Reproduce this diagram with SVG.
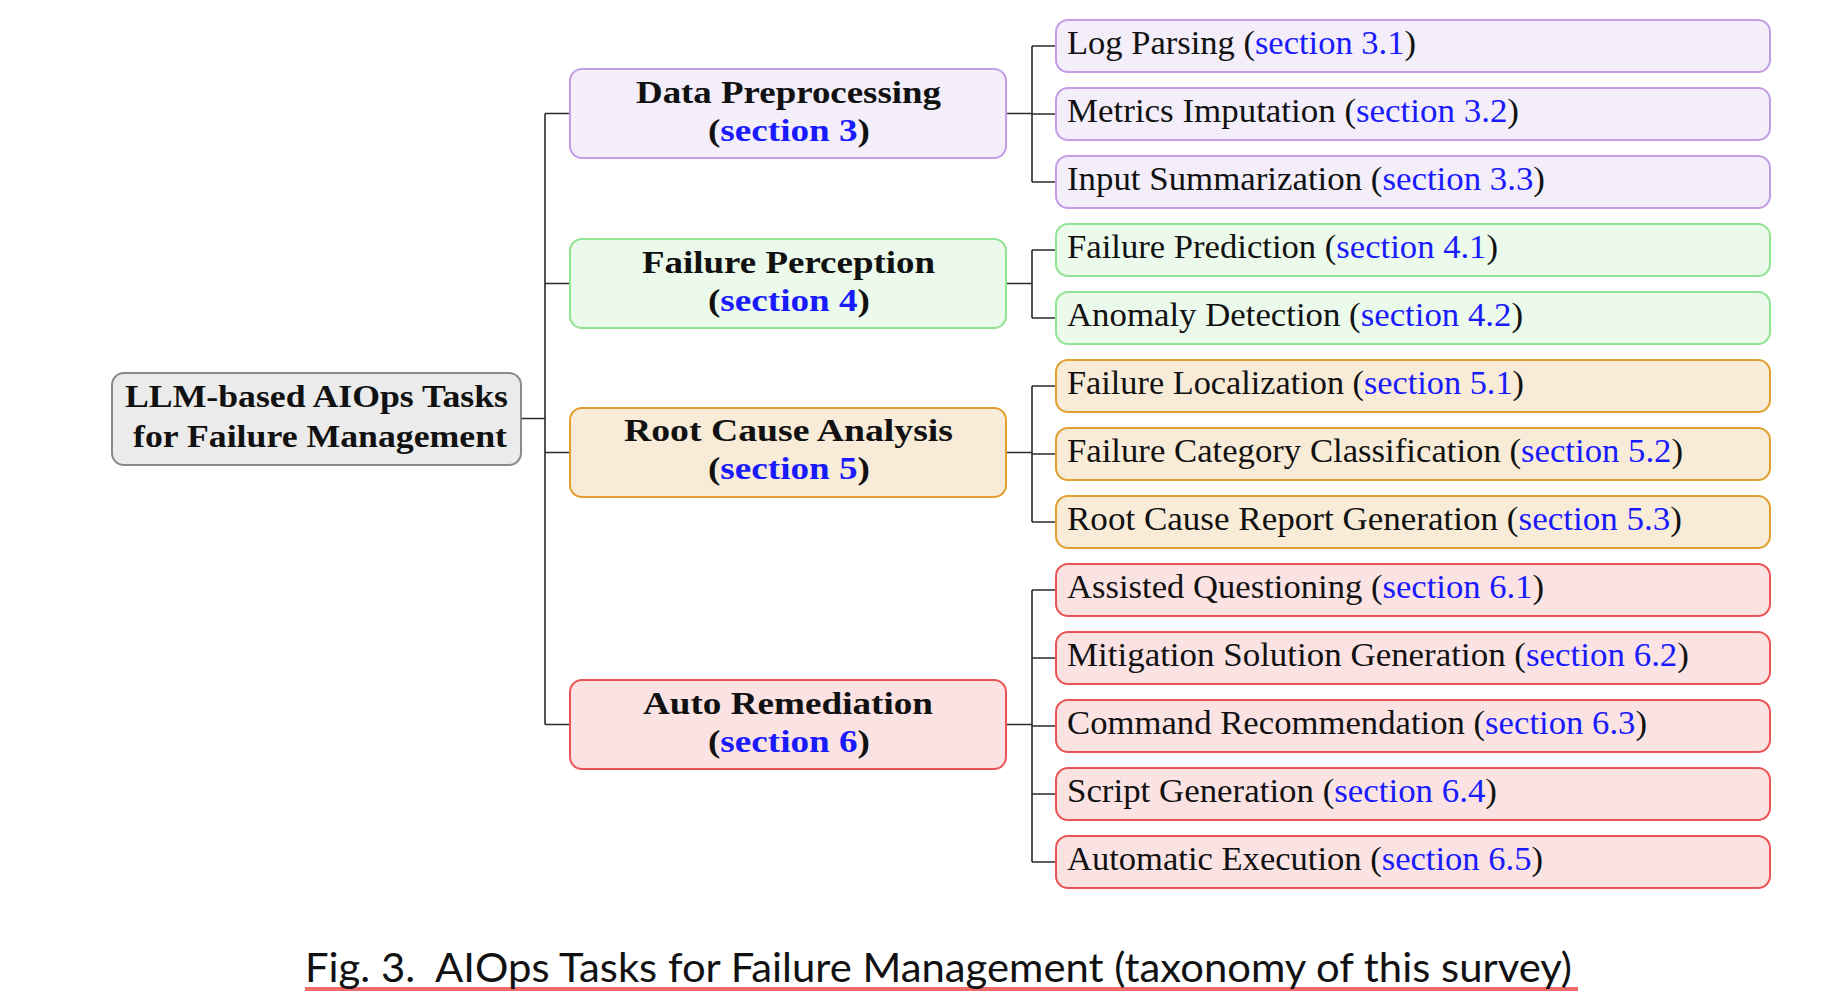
<svg xmlns="http://www.w3.org/2000/svg" width="1844" height="1006" viewBox="0 0 1844 1006">
  <style>
    .box { stroke-width: 2; }
    .root { fill: #ebebeb; stroke: #8a8a8a; }
    .purple { fill: #f3eefa; stroke: #c39ee6; }
    .green { fill: #ecfaec; stroke: #92e392; }
    .orange { fill: #f8ecd8; stroke: #e0a030; }
    .red { fill: #fbe3e3; stroke: #ea5454; }
    .head { font-family: "Liberation Serif", "DejaVu Serif", serif; font-weight: bold; font-size: 32px; fill: #111; text-anchor: middle; }
    .leaf { font-family: "Liberation Serif", "DejaVu Serif", serif; font-size: 33px; fill: #111; }
    .ref { fill: #1a1aff; }
    .cap { font-family: Lato, "Liberation Sans", sans-serif; font-size: 40px; fill: #111; }
    .wire { fill: none; stroke: #2a2a2a; stroke-width: 1.6; }
  </style>

  <rect width="1844" height="1006" fill="#ffffff"/>

  <!-- connectors -->
  <g id="connectors" class="wire">
    <path d="M521 418.5 H545 M545 113.5 V724.5 M545 113.5 H570 M545 283.5 H570 M545 452.5 H570 M545 724.5 H570"/>
    <path d="M1006 113.5 H1032 M1032 46 V182 M1032 46 H1056 M1032 114 H1056 M1032 182 H1056"/>
    <path d="M1006 283.5 H1032 M1032 250 V318 M1032 250 H1056 M1032 318 H1056"/>
    <path d="M1006 452.5 H1032 M1032 386 V522 M1032 386 H1056 M1032 454 H1056 M1032 522 H1056"/>
    <path d="M1006 724.5 H1032 M1032 590 V862 M1032 590 H1056 M1032 658 H1056 M1032 726 H1056 M1032 794 H1056 M1032 862 H1056"/>
  </g>

  <!-- root -->
  <g id="root">
    <rect class="box root" x="112" y="373" width="409" height="92" rx="12"/>
    <text class="head" x="316.5" y="407" textLength="383" lengthAdjust="spacingAndGlyphs">LLM-based AIOps Tasks</text>
    <text class="head" x="320" y="447" textLength="374" lengthAdjust="spacingAndGlyphs">for Failure Management</text>
  </g>

  <!-- categories -->
  <g id="data-preprocessing">
    <rect class="box purple" x="570" y="69" width="436" height="89" rx="12"/>
    <text class="head" x="788.5" y="103" textLength="305" lengthAdjust="spacingAndGlyphs">Data Preprocessing</text>
    <text class="head" x="789" y="141" textLength="162" lengthAdjust="spacingAndGlyphs">(<tspan class="ref">section 3</tspan>)</text>
  </g>
  <g id="failure-perception">
    <rect class="box green" x="570" y="239" width="436" height="89" rx="12"/>
    <text class="head" x="788.5" y="273" textLength="293" lengthAdjust="spacingAndGlyphs">Failure Perception</text>
    <text class="head" x="789" y="311" textLength="162" lengthAdjust="spacingAndGlyphs">(<tspan class="ref">section 4</tspan>)</text>
  </g>
  <g id="root-cause-analysis">
    <rect class="box orange" x="570" y="408" width="436" height="89" rx="12"/>
    <text class="head" x="788.5" y="441" textLength="329" lengthAdjust="spacingAndGlyphs">Root Cause Analysis</text>
    <text class="head" x="789" y="479" textLength="162" lengthAdjust="spacingAndGlyphs">(<tspan class="ref">section 5</tspan>)</text>
  </g>
  <g id="auto-remediation">
    <rect class="box red" x="570" y="680" width="436" height="89" rx="12"/>
    <text class="head" x="788" y="714" textLength="290" lengthAdjust="spacingAndGlyphs">Auto Remediation</text>
    <text class="head" x="789" y="752" textLength="162" lengthAdjust="spacingAndGlyphs">(<tspan class="ref">section 6</tspan>)</text>
  </g>

  <!-- tasks -->
  <g id="log-parsing">
    <rect class="box purple" x="1056" y="20" width="714" height="52" rx="12"/>
    <text class="leaf" x="1067" y="54" textLength="349" lengthAdjust="spacingAndGlyphs">Log Parsing (<tspan class="ref">section 3.1</tspan>)</text>
  </g>
  <g id="metrics-imputation">
    <rect class="box purple" x="1056" y="88" width="714" height="52" rx="12"/>
    <text class="leaf" x="1067" y="122" textLength="452" lengthAdjust="spacingAndGlyphs">Metrics Imputation (<tspan class="ref">section 3.2</tspan>)</text>
  </g>
  <g id="input-summarization">
    <rect class="box purple" x="1056" y="156" width="714" height="52" rx="12"/>
    <text class="leaf" x="1067" y="190" textLength="478" lengthAdjust="spacingAndGlyphs">Input Summarization (<tspan class="ref">section 3.3</tspan>)</text>
  </g>
  <g id="failure-prediction">
    <rect class="box green" x="1056" y="224" width="714" height="52" rx="12"/>
    <text class="leaf" x="1067" y="258" textLength="431" lengthAdjust="spacingAndGlyphs">Failure Prediction (<tspan class="ref">section 4.1</tspan>)</text>
  </g>
  <g id="anomaly-detection">
    <rect class="box green" x="1056" y="292" width="714" height="52" rx="12"/>
    <text class="leaf" x="1067" y="326" textLength="456" lengthAdjust="spacingAndGlyphs">Anomaly Detection (<tspan class="ref">section 4.2</tspan>)</text>
  </g>
  <g id="failure-localization">
    <rect class="box orange" x="1056" y="360" width="714" height="52" rx="12"/>
    <text class="leaf" x="1067" y="394" textLength="457" lengthAdjust="spacingAndGlyphs">Failure Localization (<tspan class="ref">section 5.1</tspan>)</text>
  </g>
  <g id="failure-category-classification">
    <rect class="box orange" x="1056" y="428" width="714" height="52" rx="12"/>
    <text class="leaf" x="1067" y="462" textLength="616" lengthAdjust="spacingAndGlyphs">Failure Category Classification (<tspan class="ref">section 5.2</tspan>)</text>
  </g>
  <g id="root-cause-report-generation">
    <rect class="box orange" x="1056" y="496" width="714" height="52" rx="12"/>
    <text class="leaf" x="1067" y="530" textLength="615" lengthAdjust="spacingAndGlyphs">Root Cause Report Generation (<tspan class="ref">section 5.3</tspan>)</text>
  </g>
  <g id="assisted-questioning">
    <rect class="box red" x="1056" y="564" width="714" height="52" rx="12"/>
    <text class="leaf" x="1067" y="598" textLength="477" lengthAdjust="spacingAndGlyphs">Assisted Questioning (<tspan class="ref">section 6.1</tspan>)</text>
  </g>
  <g id="mitigation-solution-generation">
    <rect class="box red" x="1056" y="632" width="714" height="52" rx="12"/>
    <text class="leaf" x="1067" y="666" textLength="622" lengthAdjust="spacingAndGlyphs">Mitigation Solution Generation (<tspan class="ref">section 6.2</tspan>)</text>
  </g>
  <g id="command-recommendation">
    <rect class="box red" x="1056" y="700" width="714" height="52" rx="12"/>
    <text class="leaf" x="1067" y="734" textLength="580" lengthAdjust="spacingAndGlyphs">Command Recommendation (<tspan class="ref">section 6.3</tspan>)</text>
  </g>
  <g id="script-generation">
    <rect class="box red" x="1056" y="768" width="714" height="52" rx="12"/>
    <text class="leaf" x="1067" y="802" textLength="430" lengthAdjust="spacingAndGlyphs">Script Generation (<tspan class="ref">section 6.4</tspan>)</text>
  </g>
  <g id="automatic-execution">
    <rect class="box red" x="1056" y="836" width="714" height="52" rx="12"/>
    <text class="leaf" x="1067" y="870" textLength="476" lengthAdjust="spacingAndGlyphs">Automatic Execution (<tspan class="ref">section 6.5</tspan>)</text>
  </g>

  <!-- caption -->
  <g id="caption">
    <rect x="305" y="987" width="1273" height="4" fill="#f26b6b"/>
    <text class="cap" x="305" y="982" textLength="1267" lengthAdjust="spacingAndGlyphs" xml:space="preserve">Fig. 3.  AIOps Tasks for Failure Management (taxonomy of this survey)</text>
  </g>
</svg>
